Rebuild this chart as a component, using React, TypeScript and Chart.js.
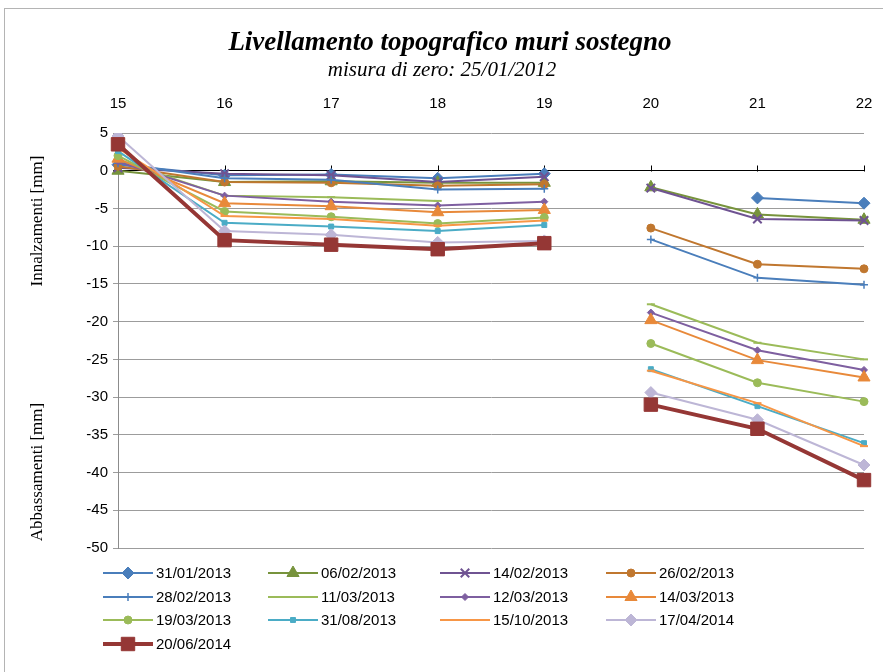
import React, { useEffect, useRef } from 'react';
import { Chart, registerables } from 'chart.js';
import { drawPoint } from 'chart.js/helpers';

Chart.register(...registerables);

// ---------------- data ----------------
const categories = ['15', '16', '17', '18', '19', '20', '21', '22'];

const seriesLabels = [
  '31/01/2013', '06/02/2013', '14/02/2013', '26/02/2013',
  '28/02/2013', '11/03/2013', '12/03/2013', '14/03/2013',
  '19/03/2013', '31/08/2013', '15/10/2013', '17/04/2014',
  '20/06/2014',
];

const s31_01_2013 = [0.8, -0.6, -0.5, -1.0, -0.4, null, -3.6, -4.3];
const s06_02_2013 = [0.0, -1.5, -1.4, -1.6, -1.6, -2.2, -5.8, -6.5];
const s14_02_2013 = [0.4, -0.4, -0.6, -1.5, -0.8, -2.3, -6.4, -6.6];
const s26_02_2013 = [0.6, -1.5, -1.6, -2.0, -1.8, -7.6, -12.4, -13.0];
const s28_02_2013 = [1.0, -1.0, -1.2, -2.5, -2.4, -9.1, -14.2, -15.1];
const s11_03_2013 = [1.4, -3.3, -3.5, -4.0, null, -17.7, -22.8, -25.0];
const s12_03_2013 = [1.2, -3.3, -4.1, -4.6, -4.1, -18.8, -23.8, -26.4];
const s14_03_2013 = [1.6, -4.3, -4.7, -5.5, -5.2, -19.8, -25.1, -27.4];
const s19_03_2013 = [2.0, -5.4, -6.1, -7.0, -6.2, -22.9, -28.1, -30.6];
const s31_08_2013 = [2.6, -6.9, -7.4, -8.0, -7.2, -26.3, -31.2, -36.1];
const s15_10_2013 = [3.0, -6.0, -6.4, -7.3, -6.6, -26.5, -30.8, -36.5];
const s17_04_2014 = [4.6, -8.0, -8.5, -9.5, -9.3, -29.4, -33.0, -39.0];
const s20_06_2014 = [3.5, -9.2, -9.8, -10.4, -9.6, -31.0, -34.2, -41.0];

const seriesValues = [
  s31_01_2013, s06_02_2013, s14_02_2013, s26_02_2013,
  s28_02_2013, s11_03_2013, s12_03_2013, s14_03_2013,
  s19_03_2013, s31_08_2013, s15_10_2013, s17_04_2014,
  s20_06_2014,
];

const yTickMin = -50;
const yTickMax = 5;
const yTickStep = 5;

// ---------------- styles ----------------
const seriesColors = [
  '#4A7EBB', '#77933C', '#6F5392', '#C0772F',
  '#4A7EBB', '#9BBB59', '#7E5FA0', '#E8893A',
  '#9BBB59', '#4BACC6', '#F79646', '#BDB6D6',
  '#953735',
];
const seriesPointStyles = [
  'rectRot', 'triangle', 'crossRot', 'circle',
  'cross', 'line', 'rectRot', 'triangle',
  'circle', 'rect', 'line', 'rectRot',
  'rect',
];
const seriesPointRadius = [6, 7, 6, 4, 4, 4, 3.5, 7, 4, 3.5, 4, 6, 9.5];
const seriesLineWidth = [2, 2, 2, 2, 2, 2, 2, 2, 2, 2, 2, 2, 4];

const FONT_SANS = '"Liberation Sans", Arial, sans-serif';
const FONT_SERIF = '"Liberation Serif", "Times New Roman", serif';

const legendCols = [103, 268, 440, 606];
const legendTop = 573;
const legendRowH = 23.5;
const legendLineLen = 50;

const decorPlugin = {
  id: 'decor',
  beforeDraw(chart: any) {
    const ctx = chart.ctx;
    ctx.save();
    ctx.fillStyle = '#ffffff';
    ctx.fillRect(0, 0, chart.width, chart.height);
    ctx.strokeStyle = '#b4b4b4';
    ctx.lineWidth = 1;
    ctx.strokeRect(4.5, 8.5, 920, 700);
    ctx.restore();
  },
  beforeDatasetsDraw(chart: any) {
    const ctx = chart.ctx;
    const xs = chart.scales.x;
    const ys = chart.scales.y;
    const y0 = Math.round(ys.getPixelForValue(0)) + 0.5;
    ctx.save();
    ctx.strokeStyle = '#000';
    ctx.lineWidth = 1;
    ctx.beginPath();
    for (let i = 0; i < categories.length; i++) {
      const x = Math.round(xs.getPixelForValue(i)) + 0.5;
      ctx.moveTo(x, y0);
      ctx.lineTo(x, y0 - 6);
    }
    ctx.stroke();
    ctx.restore();
  },
  afterDraw(chart: any) {
    const ctx = chart.ctx;
    ctx.save();
    // title + subtitle
    ctx.fillStyle = '#000';
    ctx.textAlign = 'center';
    ctx.textBaseline = 'middle';
    ctx.font = `italic bold 27px ${FONT_SERIF}`;
    ctx.fillText('Livellamento topografico muri sostegno', 450, 43);
    ctx.font = `italic 21px ${FONT_SERIF}`;
    ctx.fillText('misura di zero: 25/01/2012', 442, 70);

    // axis titles
    ctx.font = `17px ${FONT_SERIF}`;
    ctx.save();
    ctx.translate(38, 221);
    ctx.rotate(-Math.PI / 2);
    ctx.fillText('Innalzamenti [mm]', 0, 0);
    ctx.restore();
    ctx.save();
    ctx.translate(38, 472);
    ctx.rotate(-Math.PI / 2);
    ctx.fillText('Abbassamenti [mm]', 0, 0);
    ctx.restore();

    // legend
    chart.data.datasets.forEach((ds: any, i: number) => {
      const col = i % 4;
      const row = Math.floor(i / 4);
      const x0 = legendCols[col];
      const y = Math.round(legendTop + row * legendRowH);
      ctx.strokeStyle = ds.borderColor;
      ctx.lineWidth = ds.borderWidth;
      ctx.beginPath();
      ctx.moveTo(x0, y);
      ctx.lineTo(x0 + legendLineLen, y);
      ctx.stroke();
      ctx.fillStyle = ds.pointBackgroundColor;
      ctx.strokeStyle = ds.pointBorderColor;
      ctx.lineWidth = ds.pointBorderWidth;
      drawPoint(ctx, {
        pointStyle: ds.pointStyle,
        radius: ds.pointRadius,
        rotation: 0,
        borderWidth: ds.pointBorderWidth,
      }, x0 + legendLineLen / 2, y);
      ctx.fillStyle = '#000';
      ctx.textAlign = 'left';
      ctx.textBaseline = 'middle';
      ctx.font = `15px ${FONT_SANS}`;
      ctx.fillText(ds.label, x0 + legendLineLen + 3, y + 1);
    });
    ctx.restore();
  },
};

export default function App() {
  const ref = useRef<HTMLCanvasElement | null>(null);

  useEffect(() => {
    if (!ref.current) return;
    const datasets = seriesValues.map((vals, i) => ({
      label: seriesLabels[i],
      data: vals,
      borderColor: seriesColors[i],
      backgroundColor: seriesColors[i],
      borderWidth: seriesLineWidth[i],
      pointStyle: seriesPointStyles[i],
      pointRadius: seriesPointRadius[i],
      pointHoverRadius: seriesPointRadius[i],
      pointBackgroundColor: seriesColors[i],
      pointBorderColor: seriesColors[i],
      pointBorderWidth: seriesPointStyles[i] === 'crossRot' || seriesPointStyles[i] === 'line' ? 2 : (seriesPointStyles[i] === 'cross' ? 1.5 : 1),
      spanGaps: false,
      tension: 0,
      order: -i,
      segment: {
        borderColor: (c: any) => (c.p0DataIndex === 4 ? 'rgba(0,0,0,0)' : undefined),
      },
    }));

    const chart = new Chart(ref.current, {
      type: 'line',
      data: { labels: categories, datasets },
      options: {
        animation: false,
        responsive: false,
        devicePixelRatio: 1,
        layout: { padding: { left: 10, top: 80, right: 19, bottom: 124 } },
        plugins: {
          legend: { display: false },
          title: { display: false },
          tooltip: { enabled: false },
        },
        scales: {
          x: {
            type: 'category',
            position: 'top',
            offset: false,
            grid: { display: false, drawTicks: true, tickLength: 18 },
            border: { display: false },
            ticks: {
              padding: 2,
              color: '#000',
              font: { family: FONT_SANS, size: 15 },
              maxRotation: 0,
              autoSkip: false,
            },
            afterFit: (s: any) => { s.height = 53; },
          },
          y: {
            min: yTickMin,
            max: yTickMax,
            ticks: {
              stepSize: yTickStep,
              padding: 5,
              color: '#000',
              font: { family: FONT_SANS, size: 15 },
            },
            grid: {
              color: (c: any) => (c.tick && c.tick.value === 0 ? '#000000' : '#9c9c9c'),
              lineWidth: 1,
              tickLength: 5,
              drawTicks: true,
            },
            border: { display: true, color: '#8c8c8c' },
            afterFit: (s: any) => { s.width = 108; },
          },
        },
      },
      plugins: [decorPlugin],
    } as any);

    return () => chart.destroy();
  }, []);

  return (
    <div style={{ position: 'absolute', left: 0, top: 0, width: 883, height: 672 }}>
      <canvas ref={ref} width={883} height={672} style={{ width: 883, height: 672, display: 'block' }} />
    </div>
  );
}
